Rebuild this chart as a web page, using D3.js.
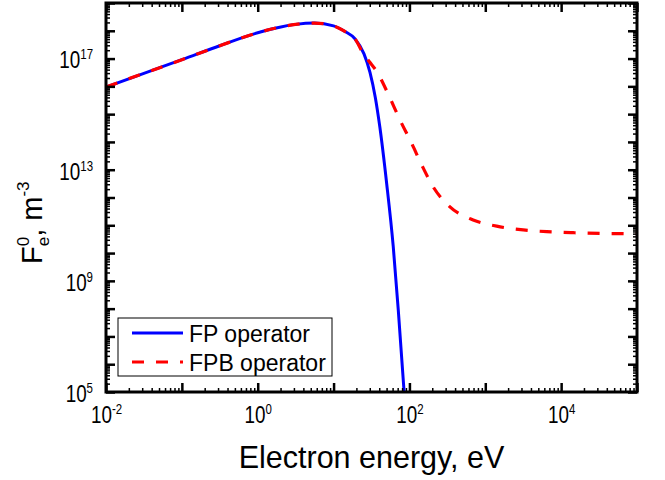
<!DOCTYPE html>
<html>
<head>
<meta charset="utf-8">
<script src="https://cdn.jsdelivr.net/npm/d3@7"></script>
<style>
  body { margin: 0; background: #fff; }
  svg { display: block; font-family: Arial, 'Liberation Sans', sans-serif; }
</style>
</head>
<body>
<svg id="chart" width="665" height="480"></svg>
<script>
// values (energy in eV, density in m^-3)
const fpEnergy = [0.01, 0.0316, 0.1, 0.316, 1, 1.95, 3.16, 5.6, 10, 14.1, 19.1, 25.1, 30.2, 35.5, 40.7, 50.1, 61.2, 71.3, 85.1];
const fpDensity = [9.5e15, 2.95e16, 9.1e16, 2.9e17, 8.5e17, 1.35e18, 1.7e18, 1.9e18, 1.5e18, 9.5e17, 5.2e17, 1.5e17, 3.2e16, 4e15, 3.5e14, 3.2e12, 1.7e10, 8.9e7, 1e5];

const fpbEnergy = [0.01, 0.0316, 0.1, 0.316, 1, 1.95, 3.16, 5.6, 10, 14.1, 19.1, 24.5, 29.5, 37.2, 55, 75, 107, 145, 204, 339, 692, 1413, 3162, 6457, 14454, 32359, 1e5];
const fpbDensity = [9.5e15, 2.95e16, 9.1e16, 2.9e17, 8.5e17, 1.35e18, 1.7e18, 1.9e18, 1.5e18, 9.5e17, 5.2e17, 1.55e17, 7.9e16, 3.4e16, 4e15, 6.2e14, 8.9e13, 1.5e13, 2.5e12, 4.7e11, 1.55e11, 9.3e10, 6.8e10, 5.9e10, 5.4e10, 5.1e10, 5e10];

const seriesNames = ['FP operator', 'FPB operator'];
const seriesColors = ['#0000ff', '#ff0000'];
const xTickLabels = [1e-2, 1, 1e2, 1e4];
const yTickLabels = [1e5, 1e9, 1e13, 1e17];

const plot = { left: 106, right: 637, top: 3, bottom: 392 };
const svg = d3.select('#chart');

const x = d3.scaleLog().domain([1e-2, 1e5]).range([plot.left, plot.right]);
const y = d3.scaleLog().domain([1e5, 1e19]).range([plot.bottom, plot.top]);

// decade ticks and the 2..9 minor ticks in between
const decades = (lo, hi) => d3.range(lo, hi + 1).map((k) => Math.pow(10, k));
const minors = (lo, hi) => d3.range(lo, hi).flatMap((k) => d3.range(2, 10).map((m) => m * Math.pow(10, k)));
const xMajor = decades(-2, 5);
const xMinor = minors(-2, 5);
const yMajor = decades(5, 19);
const yMinor = minors(5, 19);

svg.append('clipPath').attr('id', 'plot-clip')
  .append('rect')
  .attr('x', plot.left).attr('y', plot.top)
  .attr('width', plot.right - plot.left).attr('height', plot.bottom - plot.top);

const line = d3.line()
  .x((d) => x(d[0]))
  .y((d) => y(d[1]))
  .curve(d3.curveMonotoneX);

const curves = svg.append('g').attr('clip-path', 'url(#plot-clip)');
curves.append('path')
  .datum(d3.zip(fpEnergy, fpDensity))
  .attr('d', line)
  .attr('fill', 'none')
  .attr('stroke', seriesColors[0])
  .attr('stroke-width', 3);
curves.append('path')
  .datum(d3.zip(fpbEnergy, fpbDensity))
  .attr('d', line)
  .attr('fill', 'none')
  .attr('stroke', seriesColors[1])
  .attr('stroke-width', 3.2)
  .attr('stroke-dasharray', '12,12');

// ticks on all four sides, pointing inwards
function tickAxis(axis, values, size, width, transform) {
  const g = svg.append('g')
    .attr('transform', transform)
    .call(axis.tickValues(values).tickSize(-size).tickFormat(''));
  g.select('.domain').remove();
  g.selectAll('line').attr('stroke', '#000').attr('stroke-width', width);
}
tickAxis(d3.axisBottom(x), xMajor, 9, 2.5, `translate(0,${plot.bottom})`);
tickAxis(d3.axisBottom(x), xMinor, 4, 1.5, `translate(0,${plot.bottom})`);
tickAxis(d3.axisTop(x), xMajor, 9, 2.5, `translate(0,${plot.top})`);
tickAxis(d3.axisTop(x), xMinor, 4, 1.5, `translate(0,${plot.top})`);
tickAxis(d3.axisLeft(y), yMajor, 9, 2.5, `translate(${plot.left},0)`);
tickAxis(d3.axisLeft(y), yMinor, 4, 1.5, `translate(${plot.left},0)`);
tickAxis(d3.axisRight(y), yMajor, 9, 2.5, `translate(${plot.right},0)`);
tickAxis(d3.axisRight(y), yMinor, 4, 1.5, `translate(${plot.right},0)`);

svg.append('rect')
  .attr('x', plot.left).attr('y', plot.top)
  .attr('width', plot.right - plot.left).attr('height', plot.bottom - plot.top)
  .attr('fill', 'none')
  .attr('stroke', '#000')
  .attr('stroke-width', 3);

// "10" with the exponent raised; the original tick font is a bit narrow
const squeeze = 0.82;
function powerLabel(text) {
  text.each(function (d) {
    const t = d3.select(this);
    t.text(null);
    t.append('tspan').text('10');
    t.append('tspan').attr('dy', -9).attr('font-size', 14).text(Math.round(Math.log10(d)));
  });
}

const xLabels = svg.append('g')
  .attr('transform', `translate(0,${plot.bottom})`)
  .call(d3.axisBottom(x).tickValues(xTickLabels).tickSize(0));
xLabels.select('.domain').remove();
xLabels.selectAll('text')
  .attr('y', 31).attr('dy', null)
  .attr('transform', `scale(${squeeze},1)`)
  .attr('font-size', 23).attr('font-family', null).attr('fill', '#000')
  .call(powerLabel);

const yLabels = svg.append('g')
  .attr('transform', `translate(${plot.left},0)`)
  .call(d3.axisLeft(y).tickValues(yTickLabels).tickSize(0));
yLabels.select('.domain').remove();
yLabels.selectAll('text')
  .attr('x', -13 / squeeze).attr('dy', 9.3)
  .attr('transform', `scale(${squeeze},1)`)
  .attr('font-size', 23).attr('font-family', null).attr('fill', '#000')
  .call(powerLabel);

svg.append('text')
  .attr('x', (plot.left + plot.right) / 2)
  .attr('y', 468)
  .attr('text-anchor', 'middle')
  .attr('font-size', 30.5)
  .text('Electron energy, eV');

const yTitle = svg.append('text')
  .attr('transform', 'translate(42,264) rotate(-90)')
  .attr('font-size', 29);
yTitle.append('tspan').text('F');
yTitle.append('tspan').attr('font-size', 17).attr('dy', -13).text('0');
yTitle.append('tspan').attr('font-size', 17).attr('dx', -9.5).attr('dy', 20).text('e');
yTitle.append('tspan').attr('dy', -7).text(', m');
yTitle.append('tspan').attr('font-size', 17).attr('dy', -13).text('-3');

const legend = svg.append('g');
legend.append('rect')
  .attr('x', 118).attr('y', 318)
  .attr('width', 214).attr('height', 58)
  .attr('fill', '#fff')
  .attr('stroke', '#000')
  .attr('stroke-width', 1);
seriesNames.forEach((name, i) => {
  const cy = 333 + 29 * i;
  legend.append('line')
    .attr('x1', 132).attr('x2', 183)
    .attr('y1', cy).attr('y2', cy)
    .attr('stroke', seriesColors[i])
    .attr('stroke-width', 3)
    .attr('stroke-dasharray', i === 1 ? '12,12' : null);
  legend.append('text')
    .attr('x', 189).attr('y', cy + 9)
    .attr('font-size', 23)
    .text(name);
});
</script>
</body>
</html>
